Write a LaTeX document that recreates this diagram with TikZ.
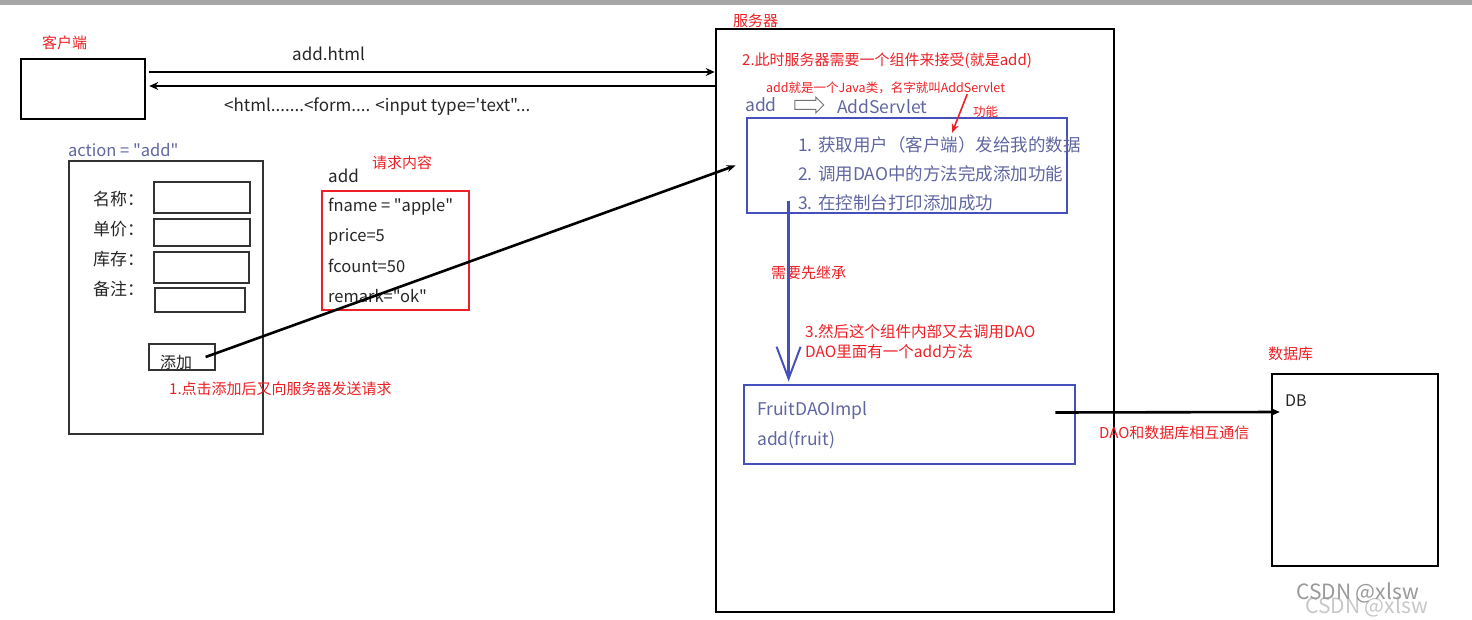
\documentclass[tikz,border=0pt]{standalone}
\usepackage{fontspec}
\setmainfont{Noto Sans CJK SC}[Ligatures=TeXOff]
\usepackage{tikz}
\usetikzlibrary{arrows.meta, positioning, shapes.arrows}

\definecolor{notered}{RGB}{236,32,38}
\definecolor{compblue}{RGB}{70,80,188}
\definecolor{comptext}{RGB}{96,102,160}

\begin{document}
\begin{tikzpicture}[x=1pt, y=-1pt,
        frame/.style={draw, line width=2.6pt, inner sep=0pt},
        thinframe/.style={draw=black!80, line width=1.3pt, inner sep=0pt},
        compbox/.style={draw=compblue, line width=2.8pt, inner sep=0pt},
        reqbox/.style={draw=notered, line width=1.8pt, inner sep=0pt},
        note/.style={text=notered, font=\fontsize{15}{18}\selectfont, inner sep=0pt, anchor=west},
        smallnote/.style={note, font=\fontsize{12.5}{15}\selectfont},
        plain/.style={font=\fontsize{16}{19}\selectfont, inner sep=0pt, anchor=west, text=black!85},
        comp/.style={plain, text=comptext, font=\fontsize{17.5}{20}\selectfont},
        arrow/.style={-{Stealth[length=9pt,width=8pt]}, line width=2.6pt},
        label/.style={plain, font=\fontsize{17}{20}\selectfont}
    ]
    \useasboundingbox (0,0) rectangle (1472,620);
    \fill[black!35] (0,0) rectangle (1472,5);

    % Client
    \node[note] (clientlabel) at (42,43) {客户端};
    \node[frame, minimum width=124pt, minimum height=60pt] (client) at (83,89) {};

    % Server
    \node[note] (serverlabel) at (733,21) {服务器};
    \node[frame, minimum width=398pt, minimum height=583pt] (server) at (915,320.5) {};

    % Request / response arrows
    \draw[arrow] ([shift={(3pt,17pt)}]client.east) -- ([yshift=17pt]client.east -| server.west);
    \draw[arrow] ([yshift=3pt]client.east -| server.west) -- ([shift={(3pt,3pt)}]client.east);
    \node[label] (htmllbl) at (292,54) {add.html};
    \node[label] (formlbl) at (224,107) {<html.......<form.... <input type='text"...};

    % Form
    \node[comp, font=\fontsize{16.5}{19}\selectfont] (action) at (68,150) {action = "add"};
    \node[thinframe, minimum width=194pt, minimum height=273pt] (form) at (166,297.5) {};
    \node[thinframe, minimum width=96pt, minimum height=31pt] (fnamein) at (202,197.5) {};
    \node[thinframe, minimum width=96pt, minimum height=27pt] (pricein) at (202,232.5) {};
    \node[thinframe, minimum width=95pt, minimum height=31pt] (fcountin) at (201.5,267.5) {};
    \node[thinframe, minimum width=90pt, minimum height=24pt] (remarkin) at (200,300) {};
    \node[plain, font=\fontsize{17}{19}\selectfont] (fnamelbl) at (93,199) {名称：};
    \node[plain, font=\fontsize{17}{19}\selectfont] (pricelbl) at (93,229) {单价：};
    \node[plain, font=\fontsize{17}{19}\selectfont] (fcountlbl) at (93,259) {库存：};
    \node[plain, font=\fontsize{17}{19}\selectfont] (remarklbl) at (93,289) {备注：};
    \node[thinframe, minimum width=66pt, minimum height=26pt] (addbtn) at (182,357) {};
    \node[plain] (addbtntext) at (160,362) {添加};
    \node[note] (clicknote) at (169,389) {1.点击添加后又向服务器发送请求};

    % Request content
    \node[plain, font=\fontsize{17}{20}\selectfont] (reqname) at (328,176) {add};
    \node[note] (reqnote) at (372,163) {请求内容};
    \node[reqbox, minimum width=147pt, minimum height=119pt] (request) at (395.5,250.5) {};
    \node[plain, font=\fontsize{16.5}{19}\selectfont] (fnameval) at (328,207) {fname = "apple"};
    \node[plain, font=\fontsize{16.5}{19}\selectfont] (priceval) at (328,237) {price=5};
    \node[plain, font=\fontsize{16.5}{19}\selectfont] (fcountval) at (328,266) {fcount=50};
    \node[plain, font=\fontsize{16.5}{19}\selectfont] (remarkval) at (328,296) {remark="ok"};

    % Servlet component
    \node[note] (compnote) at (742,61) {2.此时服务器需要一个组件来接受(就是add)};
    \node[smallnote] (javanote) at (766,88) {add就是一个Java类，名字就叫AddServlet};
    \node[comp] (addname) at (745,105) {add};
    \node[draw=black!55, line width=1pt, single arrow, single arrow head extend=3.5pt, minimum height=29pt, inner xsep=0pt, inner ysep=4pt] (maps) at (807,105) {};
    \node[comp] (servletname) at (837,107) {AddServlet};
    \node[smallnote] (funcnote) at (973,112) {功能};
    \node[compbox, minimum width=320pt, minimum height=95pt] (servlet) at (907,165.5) {};
    \node[comp] (step1) at (798,145) {1. 获取用户（客户端）发给我的数据};
    \node[comp] (step2) at (798,174) {2. 调用DAO中的方法完成添加功能};
    \node[comp] (step3) at (798,203) {3. 在控制台打印添加成功};
    \coordinate (gettip) at (952,133);
    \draw[-{Stealth[length=9pt,width=7pt]}, line width=1.6pt, draw=notered] ([xshift=-38pt]javanote.south east) -- (gettip);

    % DAO component
    \node[note] (extendnote) at (771,273) {需要先继承};
    \node[note, font=\fontsize{15.5}{18}\selectfont] (daonote) at (805,332) {3.然后这个组件内部又去调用DAO};
    \node[note, font=\fontsize{15.5}{18}\selectfont] (daonote2) at (805,352) {DAO里面有一个add方法};
    \node[compbox, minimum width=331pt, minimum height=79pt] (dao) at (909.5,424.5) {};
    \node[comp] (daoname) at (757,411) {FruitDAOImpl};
    \node[comp] (daoadd) at (757,440) {add(fruit)};
    \draw[-{Straight Barb[length=32pt,width=24pt,line width=2pt]}, line width=2.6pt, draw=compblue] ([shift={(43pt,13pt)}]servlet.south west) -- ([shift={(46pt,2pt)}]dao.north west);
    \draw[arrow, -{Stealth[length=9pt,width=7pt]}] ([xshift=-10pt]addbtn.east) -- ([xshift=-10pt]servlet.west);

    % Database
    \node[note] (dblabel) at (1268,354) {数据库};
    \node[frame, minimum width=166pt, minimum height=192pt] (db) at (1355,470) {};
    \node[plain] (dbname) at (1285,401) {DB};
    \draw[arrow] ([shift={(-21pt,12pt)}]dao.east) -- ([shift={(9pt,58pt)}]db.west);
    \node[note] (commnote) at (1099,433) {DAO和数据库相互通信};

    % Watermark
    \node[plain, text=black!22, font=\fontsize{21}{24}\selectfont] (markback) at (1305,607) {CSDN @xlsw};
    \node[plain, text=black!40, font=\fontsize{21}{24}\selectfont] (mark) at (1296,593) {CSDN @xlsw};
\end{tikzpicture}
\end{document}
